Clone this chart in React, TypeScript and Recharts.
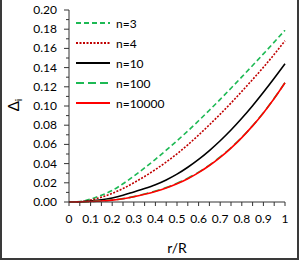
import { LineChart, Line, XAxis, YAxis, Legend } from 'recharts';

const rValues = [0, 0.05, 0.1, 0.15, 0.2, 0.25, 0.3, 0.35, 0.4, 0.45, 0.5, 0.55, 0.6, 0.65, 0.7, 0.75, 0.8, 0.85, 0.9, 0.95, 1];
const n3 = [0, 0.0005, 0.003, 0.007, 0.012, 0.019, 0.027, 0.0355, 0.0445, 0.054, 0.0638, 0.074, 0.0846, 0.0956, 0.1069, 0.1185, 0.1303, 0.1422, 0.1543, 0.1665, 0.179];
const n4 = [0, 0.0003, 0.002, 0.005, 0.009, 0.014, 0.02, 0.0266, 0.0338, 0.0416, 0.0502, 0.0596, 0.0697, 0.0804, 0.0915, 0.1031, 0.1152, 0.1276, 0.1403, 0.1538, 0.168];
const n10 = [0, 0.0002, 0.001, 0.0022, 0.0042, 0.007, 0.0105, 0.014, 0.018, 0.023, 0.029, 0.0362, 0.0444, 0.0536, 0.0638, 0.075, 0.0872, 0.1003, 0.1143, 0.1289, 0.144];
const n100 = [0, 0.0001, 0.0005, 0.0012, 0.0021, 0.0035, 0.0056, 0.0083, 0.0114, 0.015, 0.0195, 0.0248, 0.0311, 0.0385, 0.0469, 0.0565, 0.0673, 0.0795, 0.093, 0.108, 0.1244];
const n10000 = [0, 0.0001, 0.0005, 0.0011, 0.002, 0.0034, 0.0055, 0.008, 0.011, 0.0146, 0.019, 0.0243, 0.0306, 0.038, 0.0465, 0.0562, 0.0671, 0.0793, 0.0928, 0.1078, 0.1242];

const xTicks = [0, 0.05, 0.1, 0.15, 0.2, 0.25, 0.3, 0.35, 0.4, 0.45, 0.5, 0.55, 0.6, 0.65, 0.7, 0.75, 0.8, 0.85, 0.9, 0.95, 1];
const yTicks = [0, 0.01, 0.02, 0.03, 0.04, 0.05, 0.06, 0.07, 0.08, 0.09, 0.1, 0.11, 0.12, 0.13, 0.14, 0.15, 0.16, 0.17, 0.18, 0.19, 0.2];

const series = [
  { key: 'n3', name: 'n=3', color: '#1db954', dash: '5 3' },
  { key: 'n4', name: 'n=4', color: '#c00000', dash: '2 1.5' },
  { key: 'n10', name: 'n=10', color: '#000000', dash: undefined },
  { key: 'n100', name: 'n=100', color: '#1db954', dash: '8 4' },
  { key: 'n10000', name: 'n=10000', color: '#ff0000', dash: undefined },
];

const data = rValues.map((r, i) => ({
  r,
  n3: n3[i],
  n4: n4[i],
  n10: n10[i],
  n100: n100[i],
  n10000: n10000[i],
}));

const font = 'Lato, "Open Sans", sans-serif';
const axisColor = '#333';

const XTick = (props: any) => {
  const { x, y, payload } = props;
  const major = Math.round(payload.value * 100) % 10 === 0;
  const label = payload.value === 0 ? '0' : payload.value === 1 ? '1' : payload.value.toFixed(1);
  return (
    <g>
      <line x1={x} y1={y} x2={x} y2={y + 4} stroke={axisColor} strokeWidth={1} />
      {major && (
        <text x={x} y={y + 21} textAnchor="middle" fontSize={12} fontFamily={font} fill="#000">
          {label}
        </text>
      )}
    </g>
  );
};

const YTick = (props: any) => {
  const { x, y, payload } = props;
  const major = Math.round(payload.value * 100) % 2 === 0;
  return (
    <g>
      <line x1={x} y1={y} x2={x - (major ? 5 : 3)} y2={y} stroke={axisColor} strokeWidth={1} />
      {major && (
        <text x={x - 12} y={y + 4} textAnchor="end" fontSize={12} fontFamily={font} fill="#000">
          {payload.value.toFixed(2)}
        </text>
      )}
    </g>
  );
};

const renderLegend = () => (
  <div style={{ fontFamily: font, fontSize: 12, color: '#000' }}>
    {series.map((s) => (
      <div key={s.key} style={{ display: 'flex', alignItems: 'center', height: 20 }}>
        <svg width={35} height={6} style={{ display: 'block' }}>
          <line x1={0} y1={3} x2={34} y2={3} stroke={s.color} strokeWidth={1.8} strokeDasharray={s.dash} />
        </svg>
        <span style={{ marginLeft: 5 }}>{s.name}</span>
      </div>
    ))}
  </div>
);

export default function App() {
  return (
    <div style={{ position: 'absolute', left: 0, top: 0, width: 300, height: 261, background: '#fff' }}>
      <LineChart width={300} height={261} data={data} margin={{ top: 10, right: 15, bottom: 0, left: 0 }}>
        <XAxis
          dataKey="r"
          type="number"
          domain={[0, 1]}
          ticks={xTicks}
          interval={0}
          tickSize={0}
          tickMargin={0}
          tickLine={false}
          tick={<XTick />}
          height={59}
          stroke={axisColor}
          label={{
            content: (p: any) => (
              <text x={p.viewBox.x + p.viewBox.width / 2} y={253} textAnchor="middle" fontSize={14} fontFamily={font} fill="#000">
                r/R
              </text>
            ),
          }}
        />
        <YAxis
          type="number"
          domain={[0, 0.2]}
          ticks={yTicks}
          interval={0}
          tickSize={0}
          tickMargin={0}
          tickLine={false}
          tick={<YTick />}
          width={69}
          stroke={axisColor}
          label={{
            content: () => (
              <text x={0} y={0} transform="translate(19,105) rotate(-90)" textAnchor="middle" fontSize={15} fontFamily={font} fill="#000">
                Δ<tspan fontSize={10} dy={3}>i</tspan>
              </text>
            ),
          }}
        />
        <Legend
          content={renderLegend}
          layout="horizontal"
          verticalAlign="middle"
          align="center"
          wrapperStyle={{ left: 76, top: 13, width: 120 }}
        />
        {series.map((s) => (
          <Line
            key={s.key}
            dataKey={s.key}
            name={s.name}
            type="monotone"
            stroke={s.color}
            strokeWidth={1.6}
            strokeDasharray={s.dash}
            dot={false}
            isAnimationActive={false}
          />
        ))}
      </LineChart>
      <div
        style={{
          position: 'absolute',
          left: 0,
          top: 0,
          width: 299,
          height: 260,
          boxSizing: 'border-box',
          borderLeft: '2px solid #3a3a3a',
          borderRight: '2px solid #3a3a3a',
          borderBottom: '2px solid #3a3a3a',
          pointerEvents: 'none',
        }}
      />
    </div>
  );
}
